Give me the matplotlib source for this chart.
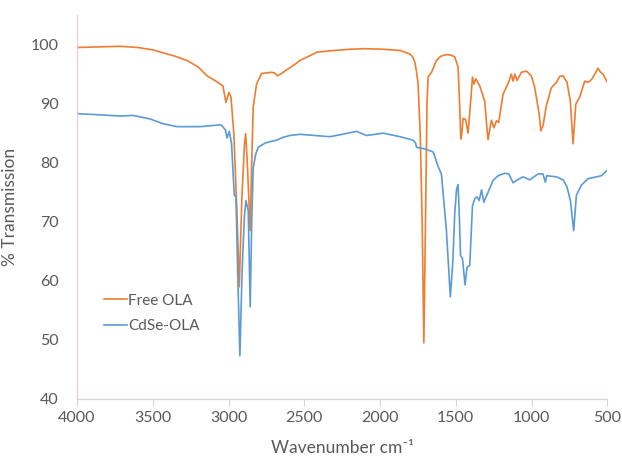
import matplotlib
matplotlib.use("Agg")
import matplotlib.pyplot as plt

# FTIR spectra (wavenumber cm-1, % transmission)
free_wn = [4000, 3850, 3716, 3600, 3500, 3433, 3350, 3274, 3200, 3142, 3077, 3037,
           3017, 2997, 2984, 2965, 2945, 2929, 2912, 2895, 2887, 2878, 2866, 2857,
           2847, 2837, 2815, 2782, 2716, 2695, 2679, 2650, 2617, 2570, 2529, 2463,
           2419, 2300, 2199, 2100, 1981, 1869, 1803, 1785, 1770, 1760, 1749, 1735,
           1722, 1711, 1700, 1690, 1683, 1660, 1628, 1600, 1562, 1530, 1507, 1485,
           1475, 1467, 1460, 1452, 1435, 1419, 1400, 1390, 1380, 1368, 1342, 1309,
           1295, 1287, 1265, 1248, 1232, 1217, 1188, 1155, 1133, 1122, 1110, 1096,
           1067, 1034, 1001, 979, 950, 939, 924, 902, 869, 836, 814, 792, 766, 744,
           726, 708, 682, 649, 630, 616, 600, 561, 545, 528, 500]
free_tr = [99.5, 99.6, 99.7, 99.5, 99.1, 98.6, 98.0, 97.3, 96.2, 94.7, 93.7, 93.0,
           90.2, 91.9, 91.1, 85.0, 72.0, 59.0, 74.0, 83.0, 84.9, 81.0, 74.0, 68.5,
           80.0, 89.4, 93.3, 95.1, 95.3, 95.2, 94.7, 95.1, 95.7, 96.5, 97.3, 98.1,
           98.7, 99.0, 99.2, 99.3, 99.2, 99.0, 98.4, 97.9, 97.0, 95.5, 93.4, 85.0,
           70.0, 49.5, 70.0, 90.0, 94.5, 95.3, 97.3, 98.0, 98.3, 98.2, 97.9, 96.2,
           90.0, 84.0, 85.0, 87.5, 87.3, 85.0, 91.0, 94.5, 93.3, 94.2, 93.0, 90.4,
           86.0, 83.9, 87.2, 85.9, 87.1, 86.8, 91.6, 93.4, 95.0, 93.8, 95.0, 93.9,
           95.3, 95.5, 94.7, 92.7, 88.3, 85.4, 86.3, 89.7, 92.7, 93.6, 94.6, 94.7,
           93.6, 90.4, 83.2, 89.9, 91.1, 93.8, 93.6, 93.8, 94.2, 96.0, 95.3, 95.0, 93.6]

cdse_wn = [4000, 3850, 3716, 3630, 3518, 3433, 3340, 3189, 3057, 3044, 3020, 3010,
           2995, 2980, 2962, 2951, 2938, 2925, 2910, 2895, 2885, 2870, 2857, 2847,
           2837, 2820, 2804, 2760, 2720, 2683, 2640, 2595, 2529, 2331, 2250, 2155,
           2089, 1979, 1869, 1781, 1765, 1759, 1737, 1700, 1649, 1616, 1595, 1562,
           1536, 1520, 1507, 1495, 1485, 1478, 1469, 1456, 1439, 1426, 1408, 1390,
           1375, 1360, 1346, 1330, 1315, 1287, 1254, 1221, 1177, 1150, 1122, 1100,
           1056, 1012, 957, 925, 909, 900, 836, 792, 766, 744, 722, 704, 671, 627,
           572, 539, 500]
cdse_tr = [88.3, 88.1, 87.9, 88.0, 87.4, 86.6, 86.1, 86.1, 86.4, 86.3, 85.5, 84.2,
           85.3, 83.2, 74.5, 74.2, 60.0, 47.3, 62.0, 71.0, 73.6, 71.9, 55.6, 70.0,
           79.2, 81.5, 82.6, 83.3, 83.6, 83.8, 84.3, 84.6, 84.8, 84.4, 84.8, 85.3,
           84.6, 85.0, 84.4, 83.8, 83.3, 82.6, 82.5, 82.3, 81.8, 79.3, 78.1, 68.5,
           57.3, 63.0, 71.4, 75.5, 76.3, 72.0, 64.3, 63.8, 59.3, 62.3, 62.6, 72.7,
           73.9, 74.2, 73.6, 75.4, 73.3, 75.0, 77.0, 77.8, 78.2, 78.1, 76.6, 77.0,
           77.6, 77.1, 78.1, 78.1, 76.7, 77.8, 77.6, 77.1, 75.9, 73.6, 68.5, 74.5,
           76.2, 77.3, 77.6, 77.8, 78.7]

x_ticks = [4000, 3500, 3000, 2500, 2000, 1500, 1000, 500]
y_ticks = [40, 50, 60, 70, 80, 90, 100]

txt = "#595959"
axis_col = "#ddd3d3"
plt.rcParams['font.family'] = ['Lato', 'DejaVu Sans']

fig = plt.figure(figsize=(6.22, 4.61), dpi=100)
ax = fig.add_axes([0.1238, 0.1345, 0.8526, 0.833])

ax.plot(free_wn, free_tr, color="#ED7D31", lw=1.2, label="Free OLA")
ax.plot(cdse_wn, cdse_tr, color="#5B9BD5", lw=1.2, label="CdSe-OLA")

ax.set_xlim(4000, 500)
ax.set_ylim(40, 105)
ax.set_xticks(x_ticks)
ax.set_yticks(y_ticks)

for side in ["top", "right"]:
    ax.spines[side].set_visible(False)
for side in ["left", "bottom"]:
    ax.spines[side].set_color(axis_col)
    ax.spines[side].set_linewidth(1.0)

ax.tick_params(axis="x", length=5, color=axis_col, labelcolor=txt, labelsize=11.5, pad=4)
ax.tick_params(axis="y", length=0, labelcolor=txt, labelsize=11.5, pad=13)

ax.set_xlabel("Wavenumber cm\u207b\u00b9", color=txt, fontsize=12.5)
ax.set_ylabel("% Transmission", color=txt, fontsize=12.5)
ax.xaxis.set_label_coords(0.5, -0.108)
ax.yaxis.set_label_coords(-0.112, 0.5)

leg = ax.legend(loc="upper left", bbox_to_anchor=(0.025, 0.31), frameon=False,
                fontsize=11, handlelength=1.5, handletextpad=0.1, labelspacing=0.75)
for t in leg.get_texts():
    t.set_color(txt)

plt.savefig("out.png", dpi=100)
